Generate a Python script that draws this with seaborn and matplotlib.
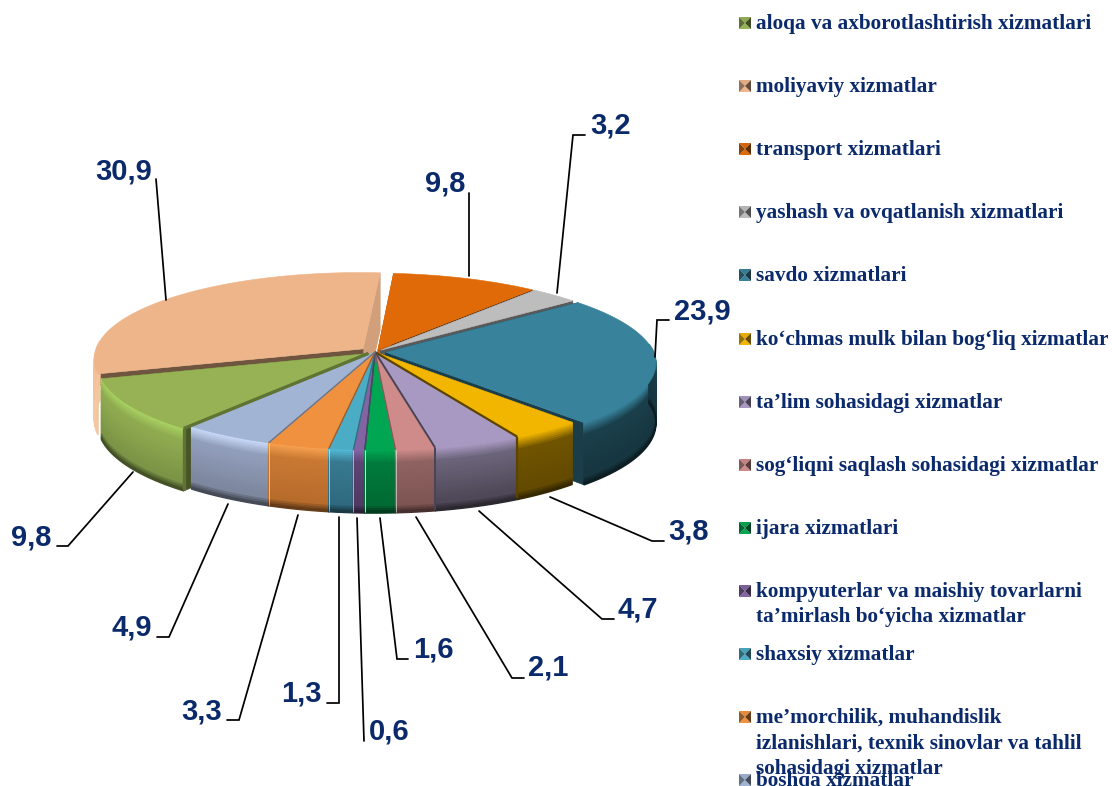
import numpy as np
import matplotlib
matplotlib.use("Agg")
import matplotlib.pyplot as plt
import seaborn as sns

# ---------- data ----------
categories = [
    "aloqa va axborotlashtirish xizmatlari",
    "moliyaviy xizmatlar",
    "transport xizmatlari",
    "yashash va ovqatlanish xizmatlari",
    "savdo xizmatlari",
    "ko\u2018chmas mulk bilan bog\u2018liq xizmatlar",
    "ta\u2019lim sohasidagi xizmatlar",
    "sog\u2018liqni saqlash sohasidagi xizmatlar",
    "ijara xizmatlari",
    "kompyuterlar va maishiy tovarlarni\nta\u2019mirlash bo\u2018yicha xizmatlar",
    "shaxsiy xizmatlar",
    "me\u2019morchilik, muhandislik\nizlanishlari, texnik sinovlar va tahlil\nsohasidagi xizmatlar",
    "boshqa xizmatlar",
]
values = [9.8, 30.9, 9.8, 3.2, 23.9, 3.8, 4.7, 2.1, 1.6, 0.6, 1.3, 3.3, 4.9]
value_labels = ["9,8", "30,9", "9,8", "3,2", "23,9", "3,8", "4,7", "2,1", "1,6", "0,6", "1,3", "3,3", "4,9"]

# ---------- styles ----------
top_colors = ["#97B254", "#EDB589", "#E06A08", "#BDBDBD", "#38829C", "#F2B600", "#A899C2",
              "#CF8B8A", "#00A651", "#8264A3", "#4BACC6", "#F0913F", "#A2B4D4"]
rim_colors = ["#A9D263", "#FCCBA0", "#E06A08", "#BDBDBD", "#38829C", "#F2B600", "#A899C2",
              "#CF8B8A", "#00A651", "#8264A3", "#52BAD6", "#F7A050", "#C8DAF8"]
side_colors = ["#8FAB50", "#F6BE90", "#A9560F", "#8F8F8F", "#1A3F4B", "#705400", "#6B6379",
               "#8E6260", "#007A3C", "#5C4373", "#38798F", "#C87832", "#919EBB"]
side_dark = ["#7C9446", "#F3C7A2", "#8A4A10", "#777777", "#163640", "#634A00", "#4F4858",
             "#7F5553", "#006B34", "#4F3A64", "#2F6A80", "#B86C2C", "#7D879E"]
bottom_shade = [0.55, 1.0, 0.55, 0.55, 0.55, 0.55, 0.55, 0.55, 0.55, 0.55, 0.55, 0.55, 0.55]
seam_colors = ["#5F7434", "#ffffff", "#ffffff", "#ffffff", "#ffffff", "#5A4400", "#4A4455",
               "#ffffff", "#ffffff", "#ffffff", "#ffffff", "#ffffff", "#ffffff"]
seam_widths = [2.4, 0, 0, 0, 0, 1.6, 1.4, 0.7, 0.7, 0.7, 0.7, 0.7, 0.7]
explode = [0.03, 0.057, 0.03, 0.03, 0.04, 0, 0, 0, 0, 0, 0, 0, 0]
cut_wall_depth = [60, 12, 60, 60, 60, 60, 60, 60, 60, 60, 60, 60, 60]
draw_order = [1, 2, 3, 4, 0, 12, 11, 10, 9, 8, 7, 6, 5]
label_color = "#0B2A6B"

# ---------- layout (pixels) ----------
CX, CY, RX, RY, PERSP, DEPTH, SKEW = 375, 352, 268, 86.2, 0.12, 60, 0.02
START = 231.7
leaders = [
    [(133, 472), (68, 546), (57, 546)], [(166, 300), (156, 179)], [(469, 276), (469, 193)],
    [(557, 293), (573, 135), (585, 135)], [(655, 357), (657, 320), (669, 320)],
    [(550, 497), (652, 541), (664, 541)], [(479, 511), (602, 619), (614, 619)],
    [(416, 517), (512, 678), (524, 678)], [(380, 518), (397, 659), (408, 659)],
    [(357, 518), (364, 741)], [(339, 517), (339, 703), (327, 703)],
    [(298, 515), (239, 720), (227, 720)], [(228, 504), (169, 637), (157, 637)],
]
label_pos = [(51, 537, "right"), (152, 171, "right"), (465, 183, "right"), (590, 125, "left"),
             (674, 311, "left"), (668, 532, "left"), (618, 610, "left"), (528, 668, "left"),
             (413, 649, "left"), (369, 732, "left"), (322, 694, "right"), (222, 712, "right"),
             (152, 628, "right")]
legend_y = [23, 86, 149, 212, 275, 339, 402, 465, 528, 591, 654, 717, 780]

sns.set_theme(style="white")
plt.rcParams["font.family"] = ["Liberation Sans", "DejaVu Sans"]
fig = plt.figure(figsize=(11.12, 7.86), dpi=100, facecolor="white")
ax = fig.add_axes([0, 0, 1, 1])
ax.set_xlim(0, 1112)
ax.set_ylim(786, 0)
ax.axis("off")


def project(u, v, z=0.0):
    s = 1.0 / (1.0 + PERSP * v)
    return CX + RX * (u - SKEW * np.maximum(v, 0)) * s, CY - RY * v * s + z * s ** 0.4


def shade(color, f):
    r, g, b = matplotlib.colors.to_rgb(color)
    return (r * f, g * f, b * f)


sweep = 360.0 / sum(values)
hi = START - np.concatenate([[0], np.cumsum(values)[:-1]]) * sweep
lo = hi - np.array(values) * sweep

n_layers = 30
for i in draw_order:
    mid = np.radians((hi[i] + lo[i]) / 2)
    ex, ey = explode[i] * np.cos(mid), explode[i] * np.sin(mid)
    t = np.radians(np.linspace(lo[i], hi[i], max(int(hi[i] - lo[i]) * 2, 6)))
    u, v = ex + np.cos(t), ey + np.sin(t)
    ax_, ay_ = project(ex, ey)

    # cut walls, seen only across the gaps of exploded slices
    if explode[i] > 0:
        for a in (lo[i], hi[i]):
            ar = np.radians(a)
            uo, vo = ex + np.cos(ar), ey + np.sin(ar)
            light = 70 < a < 110
            f, d = (0.88, DEPTH) if light else (0.47, cut_wall_depth[i])
            ox, oy = project(uo, vo)
            oxb, oyb = project(uo, vo, d)
            axb, ayb = project(ex, ey, d)
            ax.fill([ax_, ox, oxb, axb], [ay_, oy, oyb, ayb],
                    color=shade(top_colors[i], f), lw=0.4, zorder=2)

    # outer wall: graded bands on the part that faces the viewer
    vis = np.sin(t) < 0.1
    if vis.sum() > 1:
        grad = (sns.blend_palette([rim_colors[i], side_colors[i]], 7)
                + sns.blend_palette([side_colors[i], side_dark[i]], 19)
                + sns.blend_palette([side_dark[i], shade(side_dark[i], bottom_shade[i])], 4))
        for k in range(n_layers):
            z0, z1 = DEPTH * k / n_layers, DEPTH * (k + 1) / n_layers
            px0, py0 = project(u[vis], v[vis], z0)
            px1, py1 = project(u[vis], v[vis], z1)
            ax.fill(np.r_[px0, px1[::-1]], np.r_[py0, py1[::-1]],
                    color=grad[k], lw=1.0, zorder=2)

    # top face
    px, py = project(u, v)
    ax.fill(np.r_[ax_, px], np.r_[ay_, py], color=top_colors[i], lw=0.4, zorder=2)

# seams between the front slices, drawn after all faces
for i in range(len(values)):
    if seam_widths[i] == 0:
        continue
    a = hi[i] if np.sin(np.radians(hi[i])) < np.sin(np.radians(lo[i])) else lo[i]
    if i == 0:
        a = hi[i]
    ar = np.radians(a)
    mid = np.radians((hi[i] + lo[i]) / 2)
    ex, ey = explode[i] * np.cos(mid), explode[i] * np.sin(mid)
    ox, oy = project(ex + np.cos(ar), ey + np.sin(ar))
    ax_, ay_ = project(ex, ey)
    _, oyb = project(ex + np.cos(ar), ey + np.sin(ar), DEPTH - 1)
    dark = seam_colors[i] != "#ffffff"
    top_col = seam_colors[i] if dark else shade(top_colors[i], 0.65)
    ax.plot([ax_, ox], [ay_, oy], color=top_col, lw=max(seam_widths[i], 1.0), zorder=3,
            solid_capstyle="butt")
    ax.plot([ox, ox], [oy, oyb], color=seam_colors[i], lw=seam_widths[i],
            alpha=1 if dark else 0.55, zorder=3, solid_capstyle="butt")

# leader lines and value labels
for pts, (lx, ly, ha), txt in zip(leaders, label_pos, value_labels):
    xs, ys = zip(*pts)
    ax.plot(xs, ys, color="black", lw=1.25, zorder=4, solid_joinstyle="miter")
    ax.text(lx, ly, txt, ha=ha, va="center", color=label_color, fontsize=21,
            fontweight="bold", family="Liberation Sans", zorder=5)

# legend
for i, (name, y) in enumerate(zip(categories, legend_y)):
    x0, x1, y0, y1, xm = 739, 751, y - 6, y + 6, 745
    ax.fill([x0, x1, xm], [y0, y0, y], color=shade(top_colors[i], 0.95), lw=0, zorder=4)
    ax.fill([x0, x1, xm], [y1, y1, y], color=top_colors[i], lw=0, zorder=4)
    ax.fill([x0, xm, x0], [y0, y, y1], color=shade(top_colors[i], 0.62), lw=0, zorder=4)
    ax.fill([x1, xm, x1], [y0, y, y1], color=shade(top_colors[i], 0.42), lw=0, zorder=4)
    ax.text(756, y - 9, name, ha="left", va="top", color=label_color, fontsize=15.3,
            fontweight="bold", family="Liberation Serif", linespacing=1.355, zorder=5)

fig.savefig("out.png", dpi=100, facecolor="white")
